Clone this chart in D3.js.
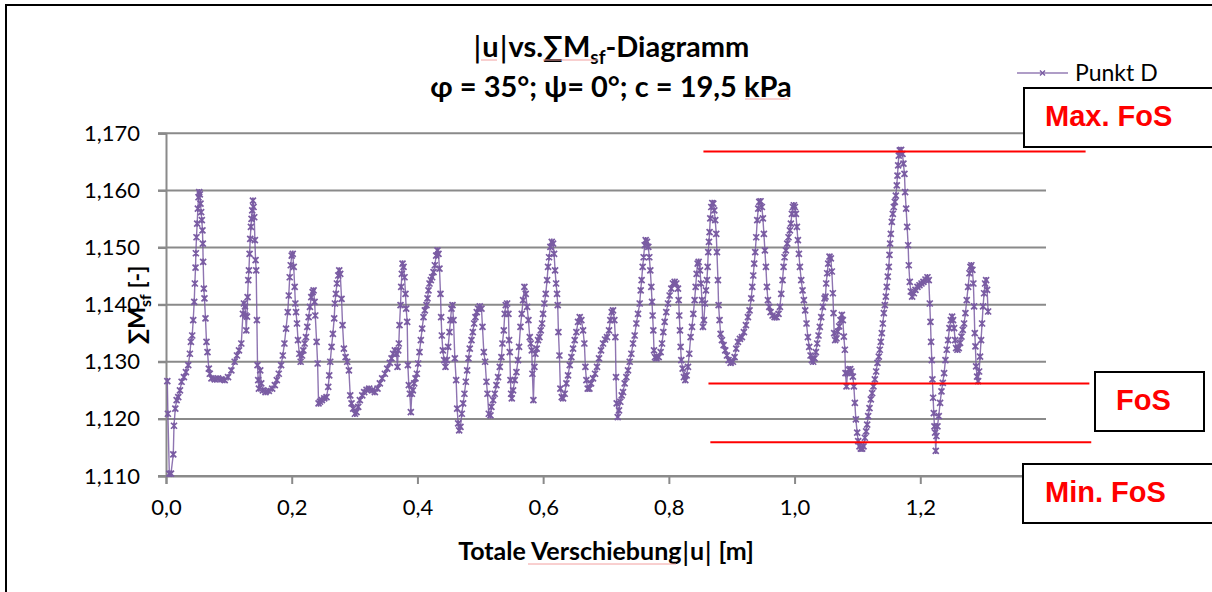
<!DOCTYPE html>
<html>
<head>
<meta charset="utf-8">
<script src="https://cdn.jsdelivr.net/npm/d3@7"></script>
<style>
  body { margin: 0; background: #fff; }
  svg { display: block; font-family: Lato, 'Open Sans', sans-serif; }
</style>
</head>
<body>
<div id="chart"></div>
<script>
var xTicks = [0, 0.2, 0.4, 0.6, 0.8, 1.0, 1.2];
var yTicks = [1.110, 1.120, 1.130, 1.140, 1.150, 1.160, 1.170];
var seriesName = 'Punkt D';
var fosLabels = ['Max. FoS', 'FoS', 'Min. FoS'];
var fosLevels = [1.1668, 1.1262, 1.1159];

// Punkt D: [|u| in m, sum Msf]
var punktD = [
[0.0021,1.1266],[0.0030,1.1209],[0.0053,1.1104],[0.0079,1.1104],[0.0116,1.1138],[0.0127,1.1188],[0.0148,1.1218],[0.0169,1.1233],[0.0195,1.1238],[0.0222,1.1250],
[0.0248,1.1265],[0.0285,1.1273],[0.0317,1.1282],[0.0354,1.1294],[0.0380,1.1314],[0.0396,1.1335],[0.0417,1.1346],[0.0433,1.1373],[0.0449,1.1405],[0.0459,1.1437],
[0.0470,1.1465],[0.0475,1.1490],[0.0485,1.1518],[0.0496,1.1542],[0.0507,1.1568],[0.0517,1.1588],[0.0528,1.1597],[0.0538,1.1593],[0.0549,1.1577],[0.0559,1.1562],
[0.0570,1.1548],[0.0580,1.1530],[0.0586,1.1507],[0.0591,1.1475],[0.0602,1.1428],[0.0612,1.1411],[0.0628,1.1376],[0.0644,1.1335],[0.0660,1.1317],[0.0681,1.1288],
[0.0697,1.1279],[0.0723,1.1271],[0.0776,1.1269],[0.0828,1.1271],[0.0881,1.1269],[0.0934,1.1268],[0.0987,1.1273],[0.1040,1.1285],[0.1092,1.1300],[0.1129,1.1311],
[0.1161,1.1320],[0.1198,1.1332],[0.1224,1.1384],[0.1240,1.1402],[0.1256,1.1397],[0.1266,1.1381],[0.1277,1.1355],[0.1288,1.1379],[0.1298,1.1413],[0.1309,1.1443],
[0.1319,1.1460],[0.1330,1.1489],[0.1340,1.1515],[0.1351,1.1536],[0.1361,1.1550],[0.1372,1.1565],[0.1383,1.1582],[0.1393,1.1571],[0.1404,1.1553],[0.1414,1.1513],
[0.1425,1.1478],[0.1435,1.1460],[0.1446,1.1373],[0.1456,1.1294],[0.1467,1.1268],[0.1478,1.1253],[0.1499,1.1285],[0.1515,1.1262],[0.1541,1.1250],[0.1583,1.1247],
[0.1636,1.1249],[0.1689,1.1253],[0.1731,1.1259],[0.1763,1.1268],[0.1794,1.1279],[0.1831,1.1294],[0.1858,1.1311],[0.1884,1.1332],[0.1910,1.1358],[0.1937,1.1387],
[0.1953,1.1416],[0.1968,1.1448],[0.1984,1.1469],[0.2000,1.1486],[0.2016,1.1489],[0.2032,1.1466],[0.2047,1.1431],[0.2058,1.1402],[0.2069,1.1387],[0.2084,1.1367],
[0.2100,1.1338],[0.2121,1.1314],[0.2142,1.1300],[0.2164,1.1311],[0.2185,1.1320],[0.2206,1.1332],[0.2227,1.1343],[0.2248,1.1361],[0.2269,1.1378],[0.2290,1.1396],
[0.2311,1.1413],[0.2332,1.1422],[0.2348,1.1425],[0.2364,1.1405],[0.2375,1.1381],[0.2396,1.1335],[0.2412,1.1297],[0.2427,1.1227],[0.2449,1.1230],[0.2480,1.1233],
[0.2517,1.1236],[0.2554,1.1238],[0.2581,1.1256],[0.2597,1.1276],[0.2613,1.1300],[0.2634,1.1326],[0.2655,1.1349],[0.2676,1.1376],[0.2687,1.1402],[0.2703,1.1419],
[0.2719,1.1437],[0.2740,1.1451],[0.2756,1.1460],[0.2772,1.1454],[0.2793,1.1410],[0.2809,1.1364],[0.2830,1.1323],[0.2857,1.1308],[0.2883,1.1300],[0.2910,1.1285],
[0.2931,1.1241],[0.2952,1.1227],[0.2978,1.1218],[0.3005,1.1209],[0.3031,1.1212],[0.3058,1.1221],[0.3084,1.1233],[0.3122,1.1241],[0.3153,1.1247],[0.3190,1.1251],
[0.3233,1.1253],[0.3280,1.1250],[0.3323,1.1247],[0.3365,1.1253],[0.3402,1.1262],[0.3439,1.1271],[0.3482,1.1279],[0.3519,1.1288],[0.3561,1.1298],[0.3588,1.1306],
[0.3614,1.1314],[0.3641,1.1320],[0.3667,1.1314],[0.3683,1.1291],[0.3694,1.1320],[0.3704,1.1332],[0.3715,1.1364],[0.3731,1.1399],[0.3742,1.1431],[0.3752,1.1454],
[0.3763,1.1472],[0.3779,1.1466],[0.3795,1.1448],[0.3810,1.1419],[0.3821,1.1393],[0.3837,1.1370],[0.3848,1.1294],[0.3863,1.1259],[0.3879,1.1244],[0.3895,1.1212],
[0.3911,1.1244],[0.3927,1.1250],[0.3948,1.1262],[0.3969,1.1271],[0.3991,1.1279],[0.4012,1.1297],[0.4033,1.1317],[0.4054,1.1338],[0.4075,1.1358],[0.4097,1.1378],
[0.4118,1.1390],[0.4144,1.1399],[0.4160,1.1411],[0.4176,1.1425],[0.4192,1.1437],[0.4213,1.1443],[0.4234,1.1448],[0.4256,1.1457],[0.4277,1.1469],[0.4298,1.1486],
[0.4319,1.1495],[0.4335,1.1489],[0.4351,1.1463],[0.4367,1.1419],[0.4377,1.1378],[0.4388,1.1346],[0.4404,1.1320],[0.4425,1.1303],[0.4446,1.1291],[0.4468,1.1303],
[0.4489,1.1326],[0.4510,1.1352],[0.4526,1.1373],[0.4542,1.1393],[0.4558,1.1399],[0.4574,1.1373],[0.4595,1.1306],[0.4616,1.1268],[0.4632,1.1218],[0.4648,1.1192],
[0.4664,1.1180],[0.4685,1.1186],[0.4706,1.1209],[0.4727,1.1227],[0.4748,1.1244],[0.4770,1.1265],[0.4791,1.1285],[0.4812,1.1306],[0.4833,1.1323],[0.4860,1.1338],
[0.4881,1.1352],[0.4902,1.1367],[0.4923,1.1378],[0.4944,1.1387],[0.4966,1.1393],[0.4992,1.1397],[0.5019,1.1393],[0.5035,1.1361],[0.5056,1.1317],[0.5077,1.1300],
[0.5098,1.1265],[0.5114,1.1244],[0.5135,1.1209],[0.5162,1.1206],[0.5177,1.1221],[0.5204,1.1233],[0.5230,1.1244],[0.5257,1.1259],[0.5283,1.1273],[0.5310,1.1291],
[0.5336,1.1308],[0.5352,1.1332],[0.5374,1.1355],[0.5389,1.1384],[0.5405,1.1399],[0.5427,1.1402],[0.5448,1.1384],[0.5458,1.1338],[0.5469,1.1317],[0.5480,1.1268],
[0.5490,1.1244],[0.5501,1.1236],[0.5522,1.1250],[0.5548,1.1268],[0.5575,1.1282],[0.5601,1.1303],[0.5617,1.1326],[0.5639,1.1361],[0.5660,1.1384],[0.5681,1.1408],
[0.5702,1.1431],[0.5723,1.1419],[0.5745,1.1396],[0.5766,1.1373],[0.5787,1.1343],[0.5803,1.1332],[0.5819,1.1320],[0.5829,1.1279],[0.5845,1.1233],[0.5861,1.1291],
[0.5877,1.1314],[0.5898,1.1323],[0.5919,1.1338],[0.5941,1.1343],[0.5962,1.1355],[0.5983,1.1367],[0.5999,1.1384],[0.6020,1.1402],[0.6041,1.1419],[0.6063,1.1443],
[0.6078,1.1466],[0.6094,1.1483],[0.6115,1.1501],[0.6137,1.1510],[0.6158,1.1507],[0.6174,1.1489],[0.6190,1.1460],[0.6206,1.1437],[0.6221,1.1419],[0.6232,1.1399],
[0.6243,1.1352],[0.6259,1.1311],[0.6274,1.1253],[0.6296,1.1238],[0.6317,1.1236],[0.6343,1.1244],[0.6370,1.1262],[0.6396,1.1276],[0.6423,1.1294],[0.6449,1.1308],
[0.6476,1.1323],[0.6502,1.1338],[0.6529,1.1352],[0.6555,1.1370],[0.6582,1.1378],[0.6608,1.1373],[0.6635,1.1355],[0.6656,1.1332],[0.6672,1.1291],[0.6688,1.1268],
[0.6709,1.1253],[0.6736,1.1253],[0.6762,1.1262],[0.6794,1.1271],[0.6826,1.1279],[0.6857,1.1291],[0.6889,1.1306],[0.6921,1.1320],[0.6953,1.1332],[0.6985,1.1339],
[0.7016,1.1343],[0.7048,1.1355],[0.7069,1.1373],[0.7091,1.1387],[0.7112,1.1390],[0.7133,1.1373],[0.7149,1.1343],[0.7159,1.1273],[0.7170,1.1227],[0.7186,1.1203],
[0.7207,1.1215],[0.7228,1.1230],[0.7250,1.1241],[0.7271,1.1247],[0.7297,1.1262],[0.7324,1.1273],[0.7350,1.1285],[0.7377,1.1300],[0.7403,1.1314],[0.7430,1.1332],
[0.7456,1.1346],[0.7483,1.1367],[0.7509,1.1384],[0.7536,1.1402],[0.7552,1.1425],[0.7567,1.1443],[0.7583,1.1466],[0.7599,1.1483],[0.7615,1.1504],[0.7631,1.1513],
[0.7652,1.1510],[0.7673,1.1501],[0.7689,1.1483],[0.7705,1.1460],[0.7721,1.1431],[0.7732,1.1405],[0.7742,1.1381],[0.7753,1.1355],[0.7764,1.1320],[0.7780,1.1308],
[0.7801,1.1306],[0.7838,1.1308],[0.7869,1.1317],[0.7891,1.1332],[0.7912,1.1352],[0.7933,1.1370],[0.7959,1.1387],[0.7986,1.1402],[0.8012,1.1416],[0.8039,1.1428],
[0.8065,1.1437],[0.8092,1.1440],[0.8118,1.1437],[0.8145,1.1428],[0.8156,1.1408],[0.8166,1.1381],[0.8177,1.1355],[0.8187,1.1326],[0.8198,1.1303],[0.8219,1.1288],
[0.8240,1.1273],[0.8262,1.1268],[0.8283,1.1276],[0.8304,1.1291],[0.8325,1.1314],[0.8346,1.1343],[0.8368,1.1361],[0.8389,1.1384],[0.8410,1.1408],[0.8426,1.1431],
[0.8442,1.1454],[0.8458,1.1472],[0.8474,1.1475],[0.8495,1.1460],[0.8511,1.1437],[0.8527,1.1408],[0.8542,1.1361],[0.8558,1.1373],[0.8574,1.1402],[0.8590,1.1425],
[0.8606,1.1443],[0.8617,1.1466],[0.8627,1.1492],[0.8638,1.1510],[0.8648,1.1527],[0.8659,1.1551],[0.8675,1.1571],[0.8691,1.1578],[0.8707,1.1577],[0.8723,1.1565],
[0.8738,1.1548],[0.8754,1.1524],[0.8765,1.1492],[0.8781,1.1443],[0.8791,1.1399],[0.8807,1.1373],[0.8823,1.1349],[0.8844,1.1338],[0.8871,1.1329],[0.8897,1.1320],
[0.8924,1.1311],[0.8950,1.1303],[0.8982,1.1298],[0.9019,1.1300],[0.9046,1.1308],[0.9072,1.1323],[0.9099,1.1335],[0.9131,1.1340],[0.9162,1.1343],[0.9194,1.1352],
[0.9226,1.1364],[0.9258,1.1378],[0.9284,1.1390],[0.9311,1.1411],[0.9327,1.1431],[0.9343,1.1451],[0.9358,1.1472],[0.9374,1.1492],[0.9390,1.1518],[0.9406,1.1548],
[0.9422,1.1568],[0.9438,1.1580],[0.9459,1.1581],[0.9480,1.1571],[0.9496,1.1551],[0.9512,1.1524],[0.9528,1.1495],[0.9544,1.1466],[0.9560,1.1431],[0.9576,1.1408],
[0.9597,1.1396],[0.9618,1.1387],[0.9650,1.1381],[0.9682,1.1378],[0.9714,1.1378],[0.9745,1.1384],[0.9767,1.1396],[0.9788,1.1419],[0.9809,1.1443],[0.9825,1.1466],
[0.9841,1.1483],[0.9862,1.1495],[0.9883,1.1507],[0.9904,1.1518],[0.9926,1.1530],[0.9941,1.1542],[0.9957,1.1559],[0.9973,1.1571],[0.9989,1.1574],[1.0005,1.1571],
[1.0021,1.1559],[1.0037,1.1536],[1.0053,1.1513],[1.0069,1.1489],[1.0085,1.1466],[1.0106,1.1443],[1.0127,1.1425],[1.0148,1.1408],[1.0169,1.1390],[1.0190,1.1367],
[1.0212,1.1343],[1.0233,1.1326],[1.0254,1.1311],[1.0275,1.1303],[1.0296,1.1300],[1.0318,1.1306],[1.0339,1.1317],[1.0360,1.1332],[1.0381,1.1346],[1.0402,1.1361],
[1.0424,1.1378],[1.0450,1.1396],[1.0477,1.1411],[1.0492,1.1414],[1.0503,1.1437],[1.0519,1.1455],[1.0535,1.1472],[1.0556,1.1484],[1.0577,1.1481],[1.0593,1.1458],
[1.0609,1.1420],[1.0620,1.1385],[1.0630,1.1350],[1.0646,1.1338],[1.0667,1.1341],[1.0688,1.1353],[1.0710,1.1362],[1.0731,1.1373],[1.0752,1.1382],[1.0768,1.1373],
[1.0784,1.1344],[1.0800,1.1321],[1.0810,1.1280],[1.0826,1.1257],[1.0842,1.1280],[1.0863,1.1286],[1.0885,1.1287],[1.0906,1.1283],[1.0927,1.1274],[1.0943,1.1257],
[1.0959,1.1228],[1.0975,1.1199],[1.0996,1.1176],[1.1012,1.1161],[1.1033,1.1152],[1.1054,1.1148],[1.1075,1.1148],[1.1097,1.1152],[1.1118,1.1167],[1.1139,1.1178],
[1.1155,1.1190],[1.1171,1.1205],[1.1192,1.1219],[1.1213,1.1234],[1.1234,1.1245],[1.1255,1.1257],[1.1277,1.1269],[1.1298,1.1283],[1.1319,1.1298],[1.1340,1.1309],
[1.1356,1.1321],[1.1372,1.1335],[1.1388,1.1350],[1.1404,1.1367],[1.1420,1.1385],[1.1436,1.1399],[1.1452,1.1414],[1.1467,1.1431],[1.1483,1.1449],[1.1499,1.1466],
[1.1510,1.1487],[1.1520,1.1507],[1.1531,1.1524],[1.1547,1.1545],[1.1563,1.1559],[1.1579,1.1571],[1.1595,1.1580],[1.1611,1.1591],[1.1626,1.1609],[1.1637,1.1626],
[1.1648,1.1644],[1.1658,1.1661],[1.1674,1.1670],[1.1695,1.1671],[1.1717,1.1664],[1.1732,1.1647],[1.1748,1.1629],[1.1759,1.1597],[1.1775,1.1568],[1.1791,1.1536],
[1.1807,1.1504],[1.1817,1.1469],[1.1833,1.1440],[1.1849,1.1423],[1.1870,1.1414],[1.1897,1.1420],[1.1923,1.1426],[1.1955,1.1431],[1.1987,1.1434],[1.2019,1.1437],
[1.2050,1.1440],[1.2082,1.1444],[1.2114,1.1448],[1.2135,1.1443],[1.2151,1.1402],[1.2162,1.1370],[1.2172,1.1335],[1.2183,1.1303],[1.2193,1.1269],[1.2204,1.1237],
[1.2215,1.1210],[1.2225,1.1187],[1.2236,1.1176],[1.2246,1.1144],[1.2257,1.1170],[1.2273,1.1187],[1.2294,1.1205],[1.2315,1.1228],[1.2337,1.1248],[1.2358,1.1263],
[1.2379,1.1280],[1.2400,1.1303],[1.2421,1.1321],[1.2443,1.1338],[1.2464,1.1359],[1.2485,1.1373],[1.2506,1.1379],[1.2522,1.1373],[1.2538,1.1359],[1.2554,1.1338],
[1.2570,1.1324],[1.2591,1.1321],[1.2612,1.1324],[1.2633,1.1333],[1.2655,1.1344],[1.2676,1.1356],[1.2697,1.1367],[1.2718,1.1385],[1.2739,1.1408],[1.2761,1.1431],
[1.2782,1.1455],[1.2798,1.1466],[1.2813,1.1469],[1.2829,1.1461],[1.2845,1.1437],[1.2856,1.1397],[1.2867,1.1350],[1.2877,1.1327],[1.2888,1.1292],[1.2904,1.1274],
[1.2920,1.1266],[1.2936,1.1283],[1.2951,1.1309],[1.2967,1.1338],[1.2983,1.1367],[1.2999,1.1397],[1.3015,1.1420],[1.3031,1.1437],[1.3047,1.1443],[1.3063,1.1426],
[1.3079,1.1388]
];

var width = 1212, height = 592;
var purple = '#7a5ca3', gridGrey = '#8a8a8a', red = '#ff0000', squiggle = '#f2a0a0';
var de = d3.formatLocale({ decimal: ',', thousands: '.', grouping: [3], currency: ['', ' €'] });
var fmtX = de.format('.1f'), fmtY = de.format('.3f');

var x = d3.scaleLinear().domain([0, 1.4]).range([166, 1046]);
var y = d3.scaleLinear().domain([1.110, 1.170]).range([476, 133.3]);

var svg = d3.select('#chart').append('svg')
    .attr('width', width)
    .attr('height', height);

svg.append('rect').attr('width', width).attr('height', height).attr('fill', '#fff');

// chart frame (only top and left edges are inside the picture)
svg.append('path')
    .attr('d', 'M6,' + height + 'V5H' + width)
    .attr('fill', 'none')
    .attr('stroke', '#000')
    .attr('stroke-width', 2);

// horizontal gridlines
svg.append('g').selectAll('line')
    .data(yTicks)
    .join('line')
    .attr('x1', x(0) - 8)
    .attr('x2', x(1.4))
    .attr('y1', d => y(d))
    .attr('y2', d => y(d))
    .style('stroke', gridGrey)
    .style('stroke-width', '2px');

// y axis
var yAxis = svg.append('g')
    .attr('transform', 'translate(' + x(0) + ',0)')
    .call(d3.axisLeft(y).tickValues(yTicks).tickFormat(fmtY).tickSize(8).tickPadding(18));
yAxis.select('.domain').style('stroke', gridGrey).style('stroke-width', '2px');
yAxis.selectAll('.tick line').style('stroke', gridGrey).style('stroke-width', '2px');
yAxis.selectAll('.tick text')
    .style('font-family', 'Lato, sans-serif')
    .style('font-size', '22px')
    .attr('fill', '#000');

// x axis (the 1,4 end of the axis sits under the Min. FoS box)
var xAxis = svg.append('g')
    .attr('transform', 'translate(0,' + y(1.110) + ')')
    .call(d3.axisBottom(x).tickValues(xTicks).tickFormat(fmtX).tickSize(8).tickPadding(15));
xAxis.select('.domain').style('stroke', gridGrey).style('stroke-width', '2px');
xAxis.selectAll('.tick line').style('stroke', gridGrey).style('stroke-width', '2px');
xAxis.selectAll('.tick text')
    .style('font-family', 'Lato, sans-serif')
    .style('font-size', '22px')
    .attr('fill', '#000');

// series line + star markers
var line = d3.line().x(d => x(d[0])).y(d => y(d[1]));
svg.append('path')
    .datum(punktD)
    .attr('d', line)
    .attr('fill', 'none')
    .style('stroke', purple)
    .style('stroke-width', '1.4px')
    .style('stroke-opacity', 0.85);

var star = 'M-3,-3L3,3M-3,3L3,-3M0,-3.2L0,3.2';
svg.append('g').selectAll('path')
    .data(punktD)
    .join('path')
    .attr('transform', d => 'translate(' + x(d[0]) + ',' + y(d[1]) + ')')
    .attr('d', star)
    .style('stroke', purple)
    .style('stroke-width', '1.7px');

// FoS reference lines (drawn shapes reaching beyond the plot)
var lineSpans = [[0.855, 1.463], [0.863, 1.469], [0.866, 1.472]];
svg.append('g').selectAll('line')
    .data(fosLevels)
    .join('line')
    .attr('x1', (d, i) => x(lineSpans[i][0]))
    .attr('x2', (d, i) => x(lineSpans[i][1]))
    .attr('y1', d => y(d))
    .attr('y2', d => y(d))
    .style('stroke', red)
    .style('stroke-width', '2px');

// label boxes
var boxes = [
    { x: 1024, y: 88, w: 200, h: 59, tx: 1045, ty: 126 },
    { x: 1095, y: 372, w: 109, h: 59, tx: 1116, ty: 410 },
    { x: 1023, y: 464, w: 200, h: 59, tx: 1045, ty: 502 }
];
var boxG = svg.append('g').selectAll('g')
    .data(fosLabels)
    .join('g');
boxG.append('rect')
    .attr('x', (d, i) => boxes[i].x)
    .attr('y', (d, i) => boxes[i].y)
    .attr('width', (d, i) => boxes[i].w)
    .attr('height', (d, i) => boxes[i].h)
    .attr('fill', '#fff')
    .style('stroke', '#000')
    .style('stroke-width', '2px');
boxG.append('text')
    .attr('x', (d, i) => boxes[i].tx)
    .attr('y', (d, i) => boxes[i].ty)
    .text(d => d)
    .attr('fill', red)
    .style('font-family', '"Liberation Sans", Arial, sans-serif')
    .style('font-weight', 'bold')
    .style('font-size', '29px');

// legend
var lg = svg.append('g').attr('transform', 'translate(1017,73)');
lg.append('line')
    .attr('x1', 0).attr('x2', 51).attr('y1', 0).attr('y2', 0)
    .style('stroke', purple).style('stroke-width', '1.5px').style('stroke-opacity', 0.8);
lg.append('path')
    .attr('transform', 'translate(25.5,0)')
    .attr('d', 'M-2.5,-2.5L2.5,2.5M-2.5,2.5L2.5,-2.5')
    .style('stroke', purple).style('stroke-width', '1.4px');
lg.append('text')
    .attr('x', 58).attr('y', 8)
    .text(seriesName)
    .style('font-size', '23px')
    .attr('fill', '#000');

// title
var title = svg.append('text')
    .attr('text-anchor', 'middle')
    .style('font-weight', 'bold')
    .style('font-size', '29px')
    .attr('fill', '#000');
var t1 = title.append('tspan').attr('x', 611).attr('y', 57);
t1.append('tspan').style('font-weight', 'normal').style('font-family', '"DejaVu Sans"').text('|');
t1.append('tspan').text('u');
t1.append('tspan').style('font-weight', 'normal').style('font-family', '"DejaVu Sans"').text('|');
t1.append('tspan').text('vs.∑M');
t1.append('tspan').attr('dy', 7).style('font-size', '19px').text('sf');
t1.append('tspan').attr('dy', -7).text('-Diagramm');
title.append('tspan').attr('x', 611).attr('y', 97).text('φ = 35°; ψ= 0°; c = 19,5 kPa');

// axis titles
var xt = svg.append('text')
    .attr('x', 606).attr('y', 560)
    .attr('text-anchor', 'middle')
    .style('font-weight', 'bold')
    .style('font-size', '25px')
    .attr('fill', '#000');
xt.append('tspan').text('Totale Verschiebung');
xt.append('tspan').style('font-weight', 'normal').style('font-family', '"DejaVu Sans"').text('|');
xt.append('tspan').text('u');
xt.append('tspan').style('font-weight', 'normal').style('font-family', '"DejaVu Sans"').text('|');
xt.append('tspan').text(' [m]');

var yt = svg.append('text')
    .attr('transform', 'translate(145,305) rotate(-90)')
    .attr('text-anchor', 'middle')
    .style('font-weight', 'bold')
    .style('font-size', '23px')
    .attr('fill', '#000');
yt.append('tspan').text('∑M');
yt.append('tspan').attr('dy', 6).style('font-size', '16px').text('sf');
yt.append('tspan').attr('dy', -6).text(' [-]');

// spell-check underlines visible in the original screenshot
var squiggles = [[481, 497, 60], [543, 598, 60], [745, 789, 99], [528, 676, 564]];
svg.append('g').selectAll('line')
    .data(squiggles)
    .join('line')
    .attr('x1', d => d[0]).attr('x2', d => d[1])
    .attr('y1', d => d[2]).attr('y2', d => d[2])
    .style('stroke', squiggle)
    .style('stroke-width', '1px');
</script>
</body>
</html>
